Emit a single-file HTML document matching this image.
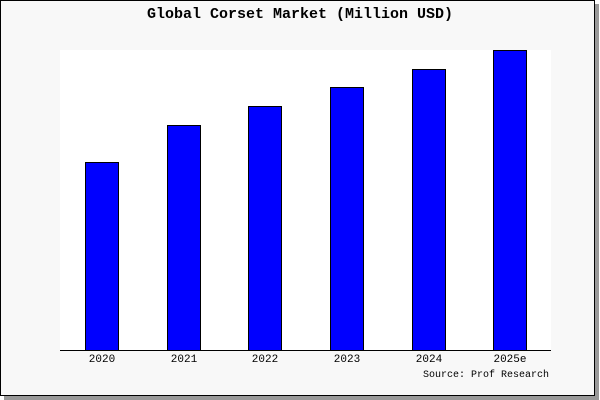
<!DOCTYPE html>
<html><head><style>
body{margin:0;width:600px;height:400px;background:#fff;position:relative;font-family:"Liberation Mono","DejaVu Sans Mono",monospace;}
.frame{position:absolute;left:0;top:0;width:593px;height:394px;border:1px solid #000;background:#f8f8f8;box-shadow:4px 4px 0 #999;}
.plot{position:absolute;left:60px;top:50px;width:491px;height:300px;background:#fff;}
.axis{position:absolute;left:60px;top:350px;width:491px;height:1px;background:#000;}
.bar{position:absolute;width:32px;background:#00f;border:1px solid #000;border-bottom:none;}
.lbl{position:absolute;top:354px;font-size:11px;width:60px;text-align:center;color:#000;}
.title{position:absolute;top:6px;left:0;width:600px;text-align:center;font-size:15px;font-weight:bold;}
.src{position:absolute;left:423px;top:370px;font-size:10px;}
</style></head><body>
<div class="frame"></div>
<div class="plot"></div>
<div class="title">Global Corset Market (Million USD)</div>
<div class="bar" style="left:85px;top:162px;height:188px"></div>
<div class="bar" style="left:167px;top:125px;height:225px"></div>
<div class="bar" style="left:248px;top:106px;height:244px"></div>
<div class="bar" style="left:330px;top:87px;height:263px"></div>
<div class="bar" style="left:412px;top:69px;height:281px"></div>
<div class="bar" style="left:493px;top:50px;height:300px"></div>
<div class="axis"></div>
<div class="lbl" style="left:72px">2020</div>
<div class="lbl" style="left:154px">2021</div>
<div class="lbl" style="left:235px">2022</div>
<div class="lbl" style="left:317px">2023</div>
<div class="lbl" style="left:399px">2024</div>
<div class="lbl" style="left:480px">2025e</div>
<div class="src">Source: Prof Research</div>
</body></html>
